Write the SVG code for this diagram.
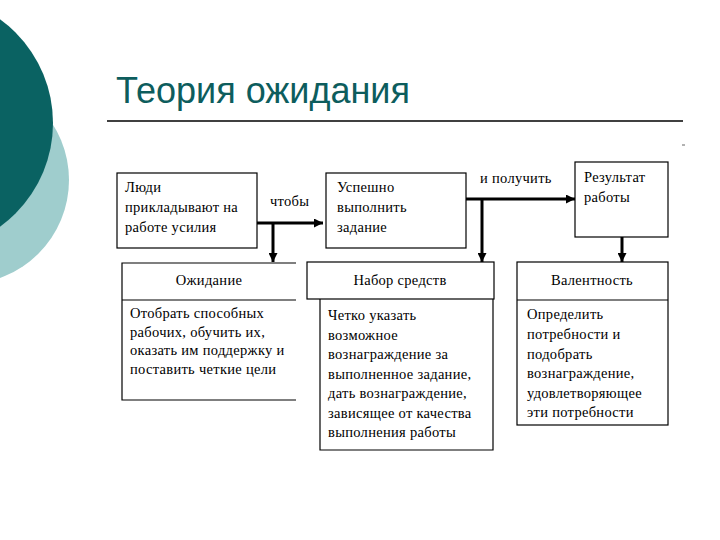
<svg xmlns="http://www.w3.org/2000/svg" width="720" height="540" viewBox="0 0 720 540">
<style>
.t{font-family:"Liberation Serif","Times New Roman",serif;font-size:14.5px;letter-spacing:0.3px;fill:#000}
.c{text-anchor:middle}
.b{fill:#fff;stroke:#000;stroke-width:1.2}
.o{fill:none;stroke:#000;stroke-width:1.2}
.a{fill:none;stroke:#000;stroke-width:3}
</style>
<defs>
<marker id="ah" viewBox="0 0 10 10" refX="10" refY="5" markerWidth="3.4" markerHeight="3" orient="auto" markerUnits="strokeWidth">
<path d="M0,0 L10,5 L0,10 z" fill="#000"/>
</marker>
</defs>
<rect width="720" height="540" fill="#fff"/>
<g id="decor">
<circle cx="-35" cy="180" r="104" fill="#9fcdcd"/>
<circle cx="-75" cy="123" r="128" fill="#0a6262"/>
</g>
<g id="title">
<text x="116" y="103" font-family="Liberation Sans, Arial, sans-serif" font-size="36" fill="#0d5d5d">Теория ожидания</text>
<line x1="107" y1="121" x2="683" y2="121" stroke="#000" stroke-width="1.5"/>
<line x1="682" y1="145" x2="685" y2="145" stroke="#666" stroke-width="1"/>
</g>
<g id="connectors">
<line class="a" x1="257" y1="223" x2="323" y2="223" marker-end="url(#ah)"/>
<line class="a" x1="273" y1="223" x2="273" y2="262" marker-end="url(#ah)"/>
<line class="a" x1="466" y1="199" x2="575" y2="199" marker-end="url(#ah)"/>
<line class="a" x1="482" y1="199" x2="482" y2="262" marker-end="url(#ah)"/>
<line class="a" x1="622" y1="237" x2="622" y2="262" marker-end="url(#ah)"/>
<text class="t" x="270" y="206">чтобы</text>
<text class="t" x="480" y="183">и получить</text>
</g>
<g id="n1">
<rect class="b" x="117" y="173" width="140" height="75"/>
<text class="t" x="125" y="192">Люди</text>
<text class="t" x="125" y="212">прикладывают на</text>
<text class="t" x="125" y="232">работе усилия</text>
</g>
<g id="n2">
<rect class="b" x="326" y="173" width="140" height="75"/>
<text class="t" x="337" y="192">Успешно</text>
<text class="t" x="337" y="212">выполнить</text>
<text class="t" x="337" y="232">задание</text>
</g>
<g id="n3">
<rect class="b" x="575" y="162" width="93" height="75"/>
<text class="t" x="584" y="182">Результат</text>
<text class="t" x="584" y="202">работы</text>
</g>
<g id="n4">
<path class="o" d="M296,263 H122 V400 H296 M122,300 H296"/>
<text class="t c" x="209" y="285">Ожидание</text>
<text class="t" x="130" y="318">Отобрать способных</text>
<text class="t" x="130" y="336.5">рабочих, обучить их,</text>
<text class="t" x="130" y="355">оказать им поддержку и</text>
<text class="t" x="130" y="373.5">поставить четкие цели</text>
</g>
<g id="n5">
<rect class="b" x="307" y="262" width="187" height="37"/>
<text class="t c" x="400" y="285">Набор средств</text>
<path class="o" d="M320,299 V450 H493 V299"/>
<text class="t" x="328" y="320">Четко указать</text>
<text class="t" x="328" y="339.5">возможное</text>
<text class="t" x="328" y="359">вознаграждение за</text>
<text class="t" x="328" y="378.5">выполненное задание,</text>
<text class="t" x="328" y="398">дать вознаграждение,</text>
<text class="t" x="328" y="417.5">зависящее от качества</text>
<text class="t" x="328" y="437">выполнения работы</text>
</g>
<g id="n6">
<rect class="b" x="517" y="262" width="151" height="163"/>
<line class="o" x1="517" y1="300" x2="668" y2="300"/>
<text class="t c" x="592" y="285">Валентность</text>
<text class="t" x="527" y="319">Определить</text>
<text class="t" x="527" y="339">потребности и</text>
<text class="t" x="527" y="358.5">подобрать</text>
<text class="t" x="527" y="378">вознаграждение,</text>
<text class="t" x="527" y="397.5">удовлетворяющее</text>
<text class="t" x="527" y="417">эти потребности</text>
</g>
</svg>
